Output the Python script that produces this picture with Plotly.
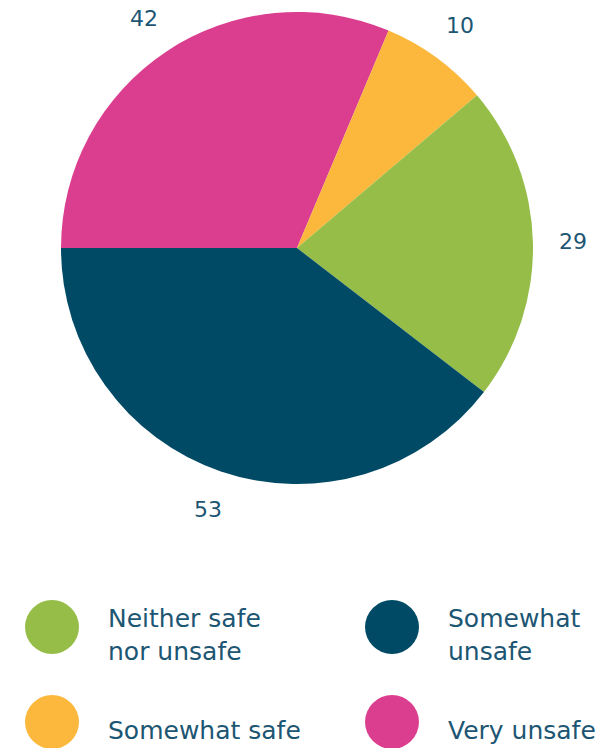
import math
import plotly.graph_objects as go

# data (clockwise from 9 o'clock)
categories = ["Very unsafe", "Somewhat safe", "Neither safe nor unsafe", "Somewhat unsafe"]
values = [42, 10, 29, 53]
colors = ["#DB3E8E", "#FBB83C", "#95BD47", "#014A66"]

# legend order (two columns)
legend_order = ["Neither safe nor unsafe", "Somewhat unsafe", "Somewhat safe", "Very unsafe"]
legend_text = {
    "Neither safe nor unsafe": "Neither safe<br>nor unsafe",
    "Somewhat unsafe": "Somewhat<br>unsafe",
    "Somewhat safe": "Somewhat safe",
    "Very unsafe": "Very unsafe",
}

W, H = 604, 748
TXT = "#1D5673"
FONT = "DejaVu Sans, Open Sans, Arial"

cx, cy, rad = 297, 248, 236  # pie centre / radius in px
start = 270  # degrees clockwise from 12 o'clock

fig = go.Figure()
fig.add_trace(go.Pie(
    labels=categories,
    values=values,
    marker=dict(colors=colors, line=dict(width=0)),
    sort=False,
    direction="clockwise",
    rotation=start,
    textinfo="none",
    hoverinfo="label+value",
    showlegend=False,
    domain=dict(x=[(cx - rad) / W, (cx + rad) / W],
                y=[1 - (cy + rad) / H, 1 - (cy - rad) / H]),
))

# value labels outside the slices
total = sum(values)
acc = 0
for v in values:
    mid = math.radians(start + (acc + v / 2) / total * 360)
    acc += v
    lr = rad + 40
    px = cx + lr * math.sin(mid)
    py = cy - lr * math.cos(mid)
    fig.add_annotation(x=px / W, y=1 - py / H, xref="paper", yref="paper",
                       text=str(v), showarrow=False,
                       font=dict(family=FONT, size=22, color=TXT),
                       xanchor="center", yanchor="middle")

# custom legend with round swatches
col_x = [52, 392]
row_y = [627, 722]
for i, name in enumerate(legend_order):
    lx = col_x[i % 2]
    ly = row_y[i // 2]
    c = colors[categories.index(name)]
    fig.add_shape(type="circle", xref="paper", yref="paper",
                  x0=(lx - 27) / W, x1=(lx + 27) / W,
                  y0=1 - (ly + 27) / H, y1=1 - (ly - 27) / H,
                  fillcolor=c, line=dict(width=0))
    fig.add_annotation(x=(lx + 54) / W, y=1 - (ly + 8) / H, xref="paper", yref="paper",
                       text=legend_text[name], showarrow=False, align="left",
                       font=dict(family=FONT, size=25, color=TXT),
                       xanchor="left", yanchor="middle")

fig.update_layout(
    width=W, height=H,
    margin=dict(l=0, r=0, t=0, b=0),
    paper_bgcolor="white",
    plot_bgcolor="white",
)

fig.write_html("out.html", config={"displayModeBar": False},
               post_script="document.body.style.margin='0';")
